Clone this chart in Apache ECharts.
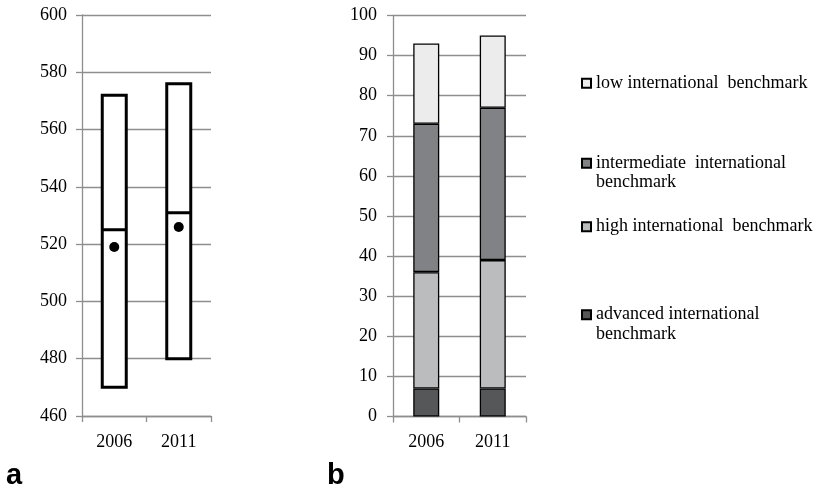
<!DOCTYPE html>
<html>
<head>
<meta charset="utf-8">
<script src="https://cdn.jsdelivr.net/npm/echarts@6/dist/echarts.min.js"></script>
<style>
  html, body { margin: 0; padding: 0; background: #fff; }
  #chart { width: 816px; height: 489px; }
</style>
</head>
<body>
<div id="chart"></div>
<script>
// Categories shared by both panels
const years = ['2006', '2011'];

// Panel a: score range boxes (bottom, median, top) and mean points
const boxBottom = [470, 480];
const boxMedian = [525, 531];
const boxTop = [572, 576];
const meanScore = [519, 526];

// Panel b: percentage of students per benchmark band (stacked segments)
const advancedPct = [7, 7];
const highPct = [29, 32];
const intermediatePct = [37, 38];
const lowPct = [20, 18];

const seriesNames = {
  low: 'low international  benchmark',
  intermediate: 'intermediate  international\nbenchmark',
  high: 'high international  benchmark',
  advanced: 'advanced international\nbenchmark'
};

const serif = '"Liberation Serif", "Times New Roman", serif';
const gridGray = '#8e8e8e';

function valueAxis(gridIndex, min, max, interval, labelMargin) {
  return {
    type: 'value', gridIndex, min, max, interval,
    axisLine: { show: true, lineStyle: { color: gridGray, width: 1.3 } },
    axisTick: { show: true, length: 6, lineStyle: { color: gridGray, width: 1.3 } },
    splitLine: { show: true, lineStyle: { color: gridGray, width: 1.3 } },
    axisLabel: { color: '#000', fontFamily: serif, fontSize: 18, margin: labelMargin }
  };
}

function categoryAxis(gridIndex) {
  return {
    type: 'category', gridIndex, data: years, boundaryGap: true,
    axisLine: { show: true, lineStyle: { color: gridGray, width: 1.3 } },
    axisTick: { show: true, length: 6, alignWithLabel: false, lineStyle: { color: gridGray, width: 1.3 } },
    axisLabel: { color: '#000', fontFamily: serif, fontSize: 18, margin: 17 }
  };
}

const boxData = years.map((_, i) => [boxBottom[i], boxBottom[i], boxMedian[i], boxTop[i], boxTop[i]]);

function stackBar(name, data, color) {
  return {
    name, type: 'bar', stack: 'pct', xAxisIndex: 1, yAxisIndex: 1,
    data, barWidth: 26,
    itemStyle: { color, borderColor: '#000', borderWidth: 1.3 },
    emphasis: { disabled: true }
  };
}

// One legend block per entry so each can sit at its own height.
// Two-line entries get an empty leading line so the swatch lines up
// with the first line of text.
function legendItem(name, top, twoLines) {
  return {
    data: [{ name, icon: 'rect' }],
    orient: 'vertical',
    left: 581, top,
    padding: 0,
    itemWidth: 9, itemHeight: 9,
    selectedMode: false,
    formatter: twoLines ? (n) => ' \n' + n : (n) => n,
    textStyle: { color: '#000', fontFamily: serif, fontSize: 18, lineHeight: 19.5 }
  };
}

const chart = echarts.init(document.getElementById('chart'), null, { renderer: 'canvas' });
chart.setOption({
  animation: false,
  backgroundColor: '#fff',
  grid: [
    { left: 82, top: 15, width: 129, height: 401 },
    { left: 393, top: 15.5, width: 133, height: 401 }
  ],
  xAxis: [categoryAxis(0), categoryAxis(1)],
  yAxis: [valueAxis(0, 460, 600, 20, 15), valueAxis(1, 0, 100, 10, 16)],
  legend: [
    legendItem(seriesNames.low, 73.5, false),
    legendItem(seriesNames.intermediate, 134, true),
    legendItem(seriesNames.high, 217, false),
    legendItem(seriesNames.advanced, 285.5, true)
  ],
  graphic: [
    { type: 'text', left: 6, top: 461, style: { text: 'a', font: 'bold 29px "Liberation Sans", Arial, sans-serif', fill: '#000' } },
    { type: 'text', left: 327, top: 461, style: { text: 'b', font: 'bold 29px "Liberation Sans", Arial, sans-serif', fill: '#000' } }
  ],
  series: [
    {
      type: 'boxplot', xAxisIndex: 0, yAxisIndex: 0,
      data: boxData,
      boxWidth: [24, 24],
      itemStyle: { color: '#fff', borderColor: '#000', borderWidth: 3 },
      emphasis: { disabled: true }
    },
    {
      type: 'scatter', xAxisIndex: 0, yAxisIndex: 0,
      data: meanScore,
      symbol: 'circle', symbolSize: 10,
      itemStyle: { color: '#000', opacity: 1 },
      emphasis: { disabled: true }
    },
    stackBar(seriesNames.advanced, advancedPct, '#555759'),
    stackBar(seriesNames.high, highPct, '#bbbcbe'),
    stackBar(seriesNames.intermediate, intermediatePct, '#808285'),
    stackBar(seriesNames.low, lowPct, '#ebeceb')
  ]
});
</script>
</body>
</html>
